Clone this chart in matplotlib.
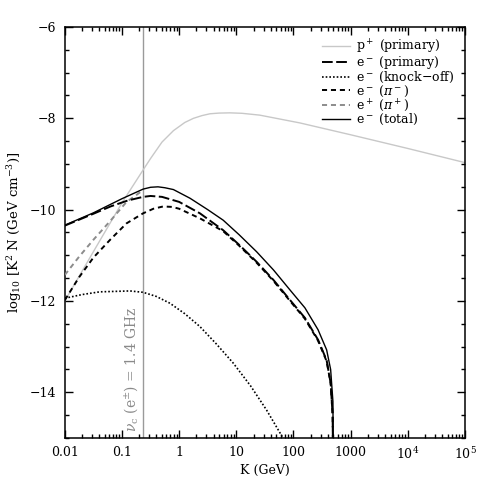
import matplotlib
matplotlib.use("Agg")
import matplotlib.pyplot as plt
import numpy as np
from matplotlib.ticker import FixedLocator, NullFormatter

plt.rcParams['font.family'] = ['DejaVu Serif']
plt.rcParams['mathtext.fontset'] = 'dejavuserif'

# values: log10 K (GeV) and log10 K^2 N
p_logk = [-2, -1.5, -1, -0.63, -0.5, -0.3, -0.1, 0.1, 0.25, 0.4, 0.54, 0.7, 0.89, 1.1, 1.41, 2.11, 3, 4, 5]
p_val = [-12.0, -10.92, -9.85, -9.13, -8.88, -8.52, -8.27, -8.09, -8.0, -7.94, -7.9, -7.885, -7.88, -7.89, -7.93, -8.10, -8.36, -8.66, -8.97]

tot_logk = [-2, -1.5, -1, -0.63, -0.5, -0.37, -0.25, -0.1, 0.19, 0.5, 0.77, 1.05, 1.354, 1.65, 1.94, 2.2, 2.43, 2.58, 2.65, 2.69, 2.695]
tot_val = [-10.34, -10.07, -9.76, -9.55, -9.51, -9.50, -9.52, -9.56, -9.75, -10.0, -10.23, -10.55, -10.92, -11.32, -11.76, -12.15, -12.63, -13.07, -13.5, -14.2, -15.2]

prim_logk = [-2, -1.5, -1.2, -0.9, -0.63, -0.5, -0.3, 0, 0.363, 0.77, 1.05, 1.354, 1.65, 1.94, 2.2, 2.43, 2.58, 2.65, 2.685, 2.69]
prim_val = [-10.35, -10.09, -9.93, -9.80, -9.72, -9.70, -9.72, -9.83, -10.08, -10.45, -10.77, -11.14, -11.54, -11.98, -12.37, -12.85, -13.3, -13.8, -14.5, -15.2]

pim_logk = [-2, -1.75, -1.5, -1.2, -0.92, -0.63, -0.45, -0.28, -0.12, 0, 0.363, 0.77, 1.05, 1.354, 1.65, 1.94, 2.2, 2.43, 2.58, 2.65, 2.685, 2.69]
pim_val = [-11.98, -11.48, -11.05, -10.65, -10.30, -10.08, -9.98, -9.93, -9.94, -9.98, -10.19, -10.47, -10.79, -11.16, -11.56, -12.0, -12.39, -12.87, -13.32, -13.8, -14.5, -15.2]

pip_logk = [-2, -1.75, -1.5, -1.2, -0.92, -0.75, -0.63]
pip_val = [-11.43, -11.03, -10.66, -10.24, -9.83, -9.68, -9.57]

ko_logk = [-2, -1.7, -1.39, -0.86, -0.63, -0.4, -0.16, 0.1, 0.363, 0.65, 0.946, 1.25, 1.53, 1.84]
ko_val = [-11.94, -11.86, -11.80, -11.78, -11.81, -11.90, -12.05, -12.28, -12.56, -12.94, -13.36, -13.86, -14.39, -15.05]

nu_c = 0.23  # GeV, synchrotron 1.4 GHz line

xticks = [0.01, 0.1, 1, 10, 100, 1000, 1e4, 1e5]
xlabels = ['0.01', '0.1', '1', '10', '100', '1000', '10$^4$', '10$^5$']
yticks = [-14, -12, -10, -8, -6]

fig = plt.figure(figsize=(4.91, 4.91), dpi=100)
ax = fig.add_axes([0.132, 0.108, 0.815, 0.837])

ax.axvline(nu_c, color='#9a9a9a', lw=1.0, zorder=1)
ax.text(nu_c * 0.9, -14.88, r'$\nu_{\rm c}$ (e$^{\pm}$) = 1.4 GHz', rotation=90,
        ha='right', va='bottom', color='#8a8a8a', fontsize=10)

ax.plot(10 ** np.array(p_logk), p_val, color='#c8c8c8', lw=1.0, label='p$^+$ (primary)', zorder=2)
ax.plot(10 ** np.array(prim_logk), prim_val, color='black', lw=1.4, dashes=(5.5, 1.8),
        label='e$^-$ (primary)', zorder=4)
ax.plot(10 ** np.array(ko_logk), ko_val, color='black', lw=1.2, dashes=(1, 1.2),
        label='e$^-$ (knock$-$off)', zorder=4)
ax.plot(10 ** np.array(pim_logk), pim_val, color='black', lw=1.4, dashes=(2.6, 2.0),
        label=r'e$^-$ ($\pi^-$)', zorder=4)
ax.plot(10 ** np.array(pip_logk), pip_val, color='#8c8c8c', lw=1.4, dashes=(2.6, 2.0),
        label=r'e$^+$ ($\pi^+$)', zorder=3)
ax.plot(10 ** np.array(tot_logk), tot_val, color='black', lw=1.0, label='e$^-$ (total)', zorder=5)

ax.set_xscale('log')
ax.set_xlim(0.01, 1e5)
ax.set_ylim(-15, -6)

ax.xaxis.set_major_locator(FixedLocator(xticks))
ax.set_xticklabels(xlabels)
minors = [m * 10.0 ** e for e in range(-2, 5) for m in range(2, 10)]
ax.xaxis.set_minor_locator(FixedLocator(minors))
ax.xaxis.set_minor_formatter(NullFormatter())
ax.yaxis.set_major_locator(FixedLocator(yticks))
ax.yaxis.set_minor_locator(FixedLocator(np.arange(-15, -5.9, 0.5)))

ax.tick_params(which='both', direction='in', top=True, right=True, labelsize=9, width=1.0)
ax.tick_params(which='major', length=6, pad=6)
ax.tick_params(which='minor', length=3)
for s in ax.spines.values():
    s.set_linewidth(1.1)

ax.set_xlabel('K (GeV)', fontsize=9, labelpad=1)
ax.set_ylabel(r'log$_{10}$ [K$^2$ N (GeV cm$^{-3}$)]', fontsize=9.5, labelpad=4)

ax.legend(loc='upper right', frameon=False, fontsize=9, handlelength=2.2,
          handletextpad=0.5, labelspacing=-0.12, borderaxespad=0.45)

fig.savefig('out.png', dpi=100)
